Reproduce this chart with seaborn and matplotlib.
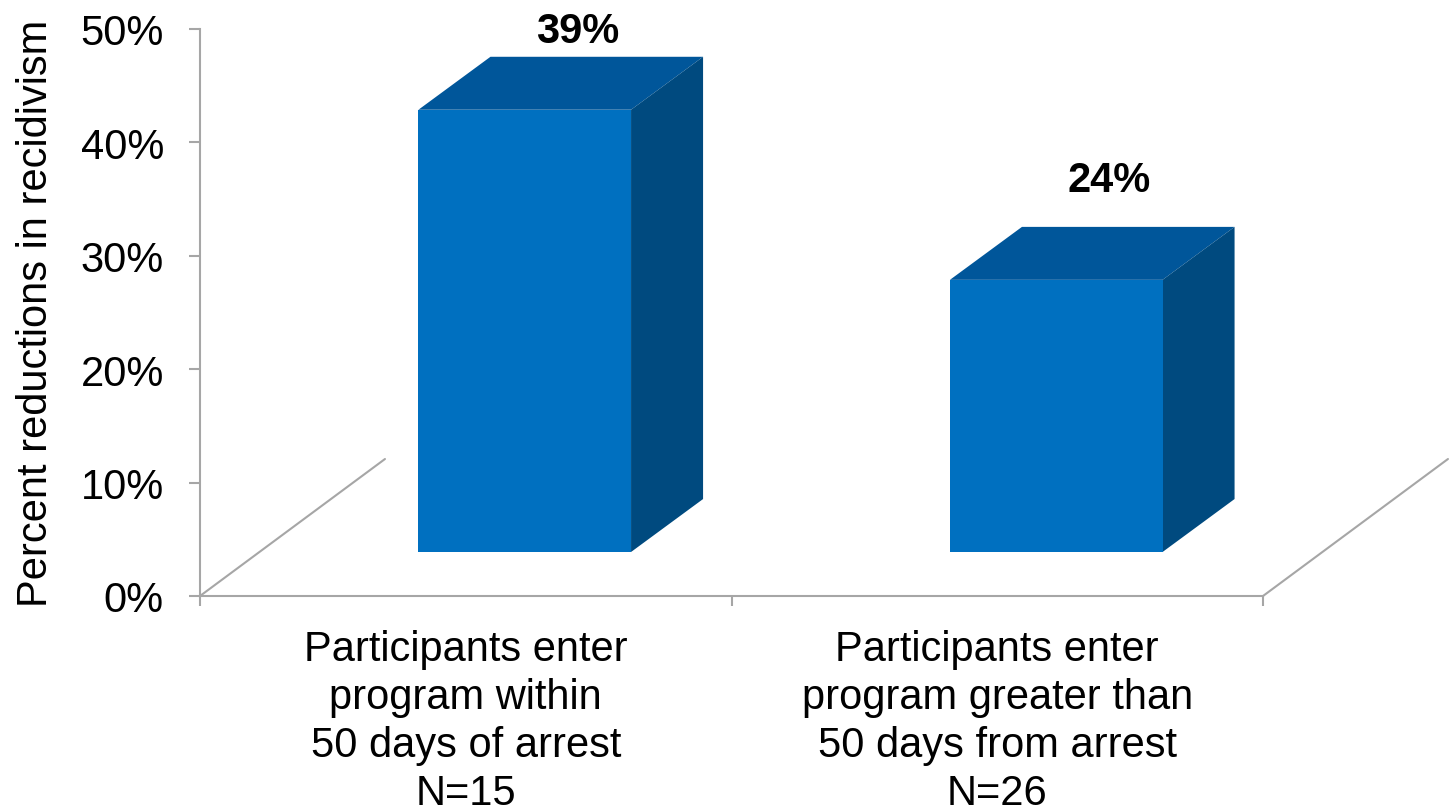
import matplotlib

matplotlib.use("Agg")

import matplotlib.pyplot as plt
import seaborn as sns
from matplotlib.patches import Polygon

categories = [
    "Participants enter\nprogram within\n50 days of arrest\nN=15",
    "Participants enter\nprogram greater than\n50 days from arrest\nN=26",
]
values = [39, 24]
value_labels = ["39%", "24%"]
y_ticks = [0, 10, 20, 30, 40, 50]
y_tick_labels = ["0%", "10%", "20%", "30%", "40%", "50%"]

FRONT = "#0070C0"
TOP = "#00569A"
SIDE = "#004A7F"
GRID = "#A6A6A6"

# fake 3d depth, in data units (x in categories, y in percent)
FLOOR_DX, FLOOR_DY = 0.348, 12.08
FRONT_DX, FRONT_DY = 0.111, 3.88
DEPTH_DX, DEPTH_DY = 0.1355, 4.67

sns.set_theme(style="white")
plt.rcParams["font.family"] = ["Liberation Sans", "DejaVu Sans"]
plt.rcParams["text.color"] = "black"
plt.rcParams["axes.labelcolor"] = "black"

fig = plt.figure(figsize=(14.53, 8.12), dpi=100)
ax = fig.add_axes([200 / 1453, 1 - 597 / 812, 1063 / 1453, 567 / 812])

sns.barplot(x=categories, y=values, color=FRONT, width=0.4, saturation=1, ax=ax, zorder=3)

for patch in ax.patches:
    patch.set_x(patch.get_x() + FRONT_DX)
    patch.set_y(FRONT_DY)
    patch.set_edgecolor("none")
    x0 = patch.get_x()
    x1 = x0 + patch.get_width()
    y0 = patch.get_y()
    y1 = y0 + patch.get_height()
    top = [(x0, y1), (x1, y1), (x1 + DEPTH_DX, y1 + DEPTH_DY), (x0 + DEPTH_DX, y1 + DEPTH_DY)]
    side = [(x1, y0), (x1 + DEPTH_DX, y0 + DEPTH_DY), (x1 + DEPTH_DX, y1 + DEPTH_DY), (x1, y1)]
    ax.add_patch(Polygon(top, closed=True, facecolor=TOP, edgecolor="none", zorder=2, clip_on=False))
    ax.add_patch(Polygon(side, closed=True, facecolor=SIDE, edgecolor="none", zorder=2, clip_on=False))

for i, (v, lab) in enumerate(zip(values, value_labels)):
    y = min(v + FRONT_DY + DEPTH_DY + 4.1, 49.8)
    ax.text(i + 0.21, y, lab, ha="center", va="center", fontsize=30, fontweight="bold",
            color="black", clip_on=False)

# floor side edges
ax.plot([-0.5, -0.5 + FLOOR_DX], [0, FLOOR_DY], color=GRID, lw=1.5, clip_on=False, zorder=1)
ax.plot([1.5, 1.5 + FLOOR_DX], [0, FLOOR_DY], color=GRID, lw=1.5, clip_on=False, zorder=1)

ax.set_xlim(-0.5, 1.5)
ax.set_ylim(0, 50)
ax.set_yticks(y_ticks)
ax.set_yticklabels(y_tick_labels)
ax.set_xticks([0, 1])
ax.set_xticks([-0.5, 0.5, 1.5], minor=True)
ax.tick_params(axis="x", which="major", length=0, pad=24, labelsize=30, labelcolor="black")
ax.tick_params(axis="x", which="minor", length=7, width=1.5, color=GRID, direction="out", bottom=True)
ax.tick_params(axis="y", length=8, width=1.5, color=GRID, direction="out", left=True, pad=18,
               labelsize=30, labelcolor="black")
for label in ax.get_xticklabels():
    label.set_linespacing(1.25)

ax.set_ylabel("Percent reductions in recidivism", fontsize=30, labelpad=18)
ax.set_xlabel("")

for name in ["top", "right"]:
    ax.spines[name].set_visible(False)
for name in ["left", "bottom"]:
    ax.spines[name].set_color(GRID)
    ax.spines[name].set_linewidth(1.5)

ax.set_facecolor("white")
fig.patch.set_facecolor("white")
fig.savefig("out.png", dpi=100)
